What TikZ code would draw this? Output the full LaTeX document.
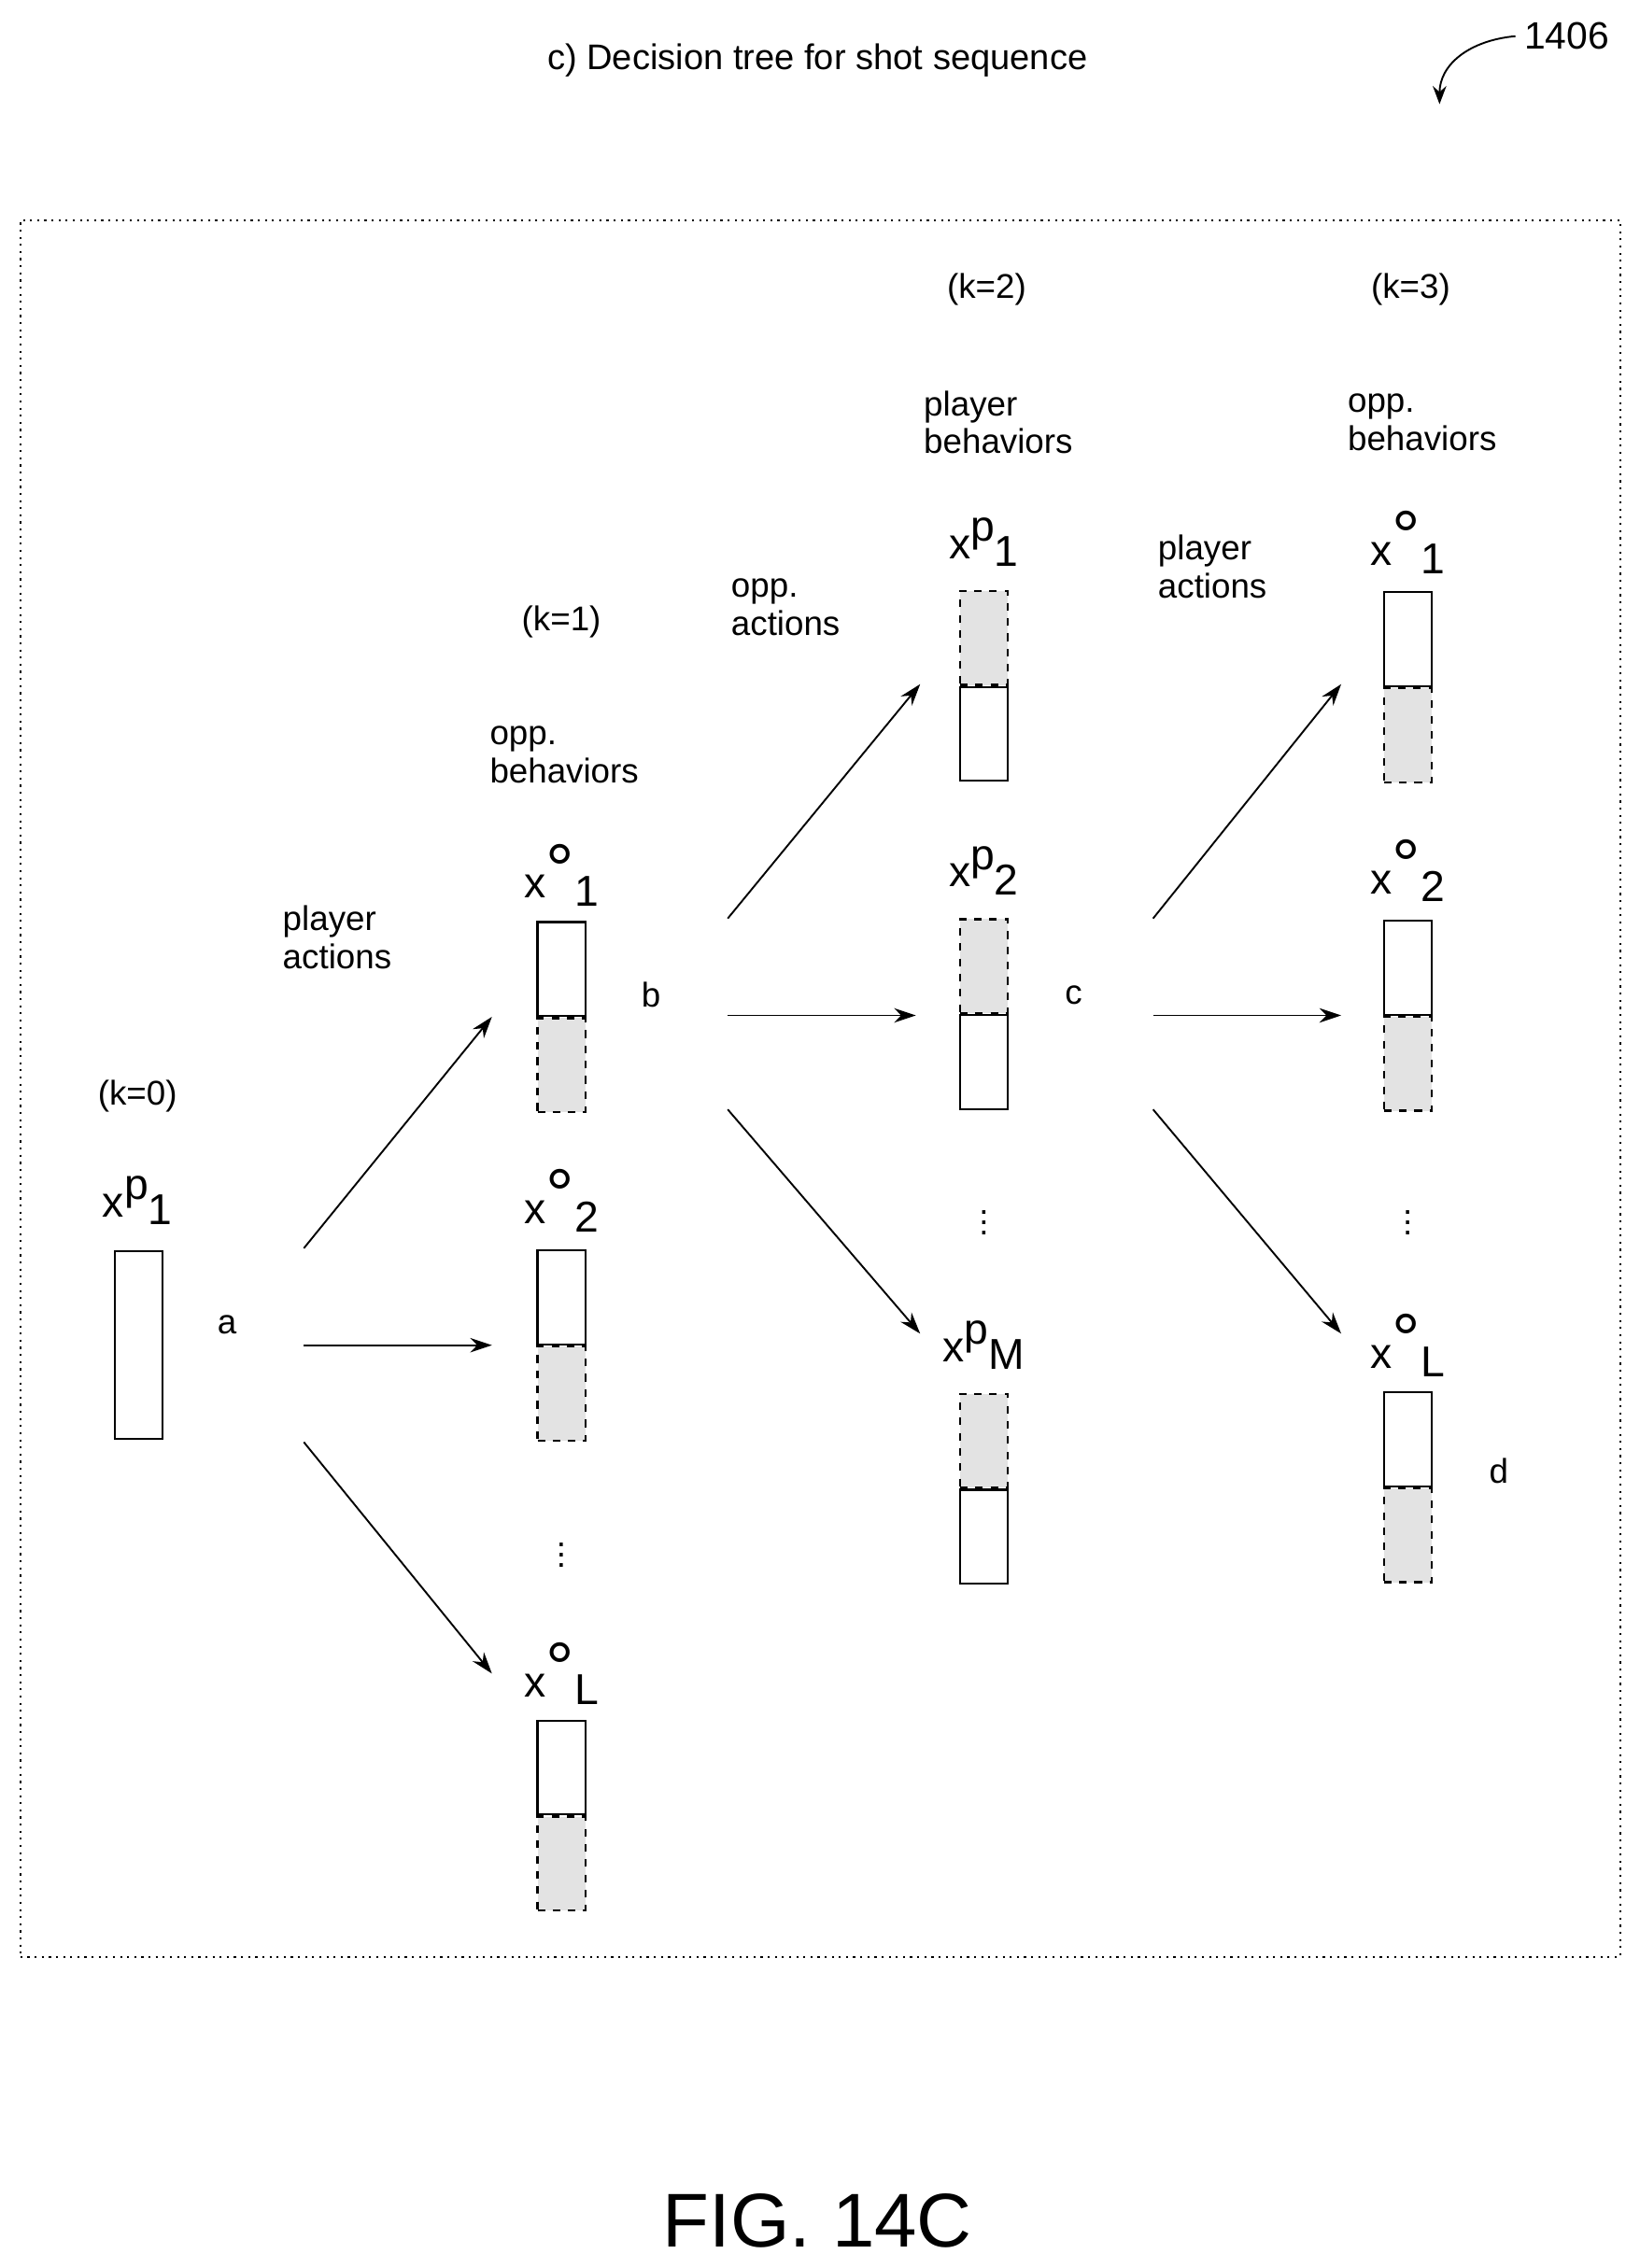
\documentclass[tikz,border=0pt]{standalone}
\usepackage{fontspec}
\setmainfont{Liberation Sans}
\usetikzlibrary{arrows.meta,positioning}
\newcommand{\xlbl}[2]{x\raisebox{0.75ex}{#1}\raisebox{-0.35ex}{#2}}
\newcommand{\odeg}{\raisebox{-0.55ex}{\fontsize{28}{28}\selectfont\textdegree}}
\begin{document}
\begin{tikzpicture}[
    x=0.02cm, y=-0.02cm,
    half/.style={rectangle, draw, line width=0.8pt, minimum width=0.66cm, minimum height=1.3cm, inner sep=0pt},
    shd/.style={half, dashed, fill=gray!22},
    lbl/.style={font=\fontsize{17}{19}\selectfont},
    txt/.style={font=\fontsize{13.5}{15}\selectfont, align=left},
    dots/.style={font=\fontsize{13.5}{15}\selectfont, inner sep=0pt},
    arrow/.style={-{Stealth[length=3mm,width=2mm]}, line width=0.7pt}
]
    \useasboundingbox (0,0) rectangle (1133,1568);
    \node[font=\fontsize{14}{16}\selectfont] (title) at (565,42) {c) Decision tree for shot sequence};
    \node[font=\fontsize{15}{17}\selectfont] (ref) at (1083,25) {1406};
    \draw[-{Stealth[length=2.5mm]}, line width=0.7pt] (ref.west) .. controls (1015,28) and (995,45) .. (995,72);
    \node[draw, dotted, line width=0.8pt, minimum width=22.12cm, minimum height=24.02cm, inner sep=0] (frame) at (567,752.5) {};

    % k=0
    \node[txt] (k0) at (95,758) {(k=0)};
    \node[lbl] (l0) at (95,830) {\xlbl{p}{1}};
    \node[half, minimum height=2.6cm] (p0) at (96,930) {};

    % k=1
    \node[txt] (k1) at (388,430) {(k=1)};
    \node[txt] (ob1) at (390,522) {opp.\\behaviors};
    \node[lbl] (o1l) at (388,605) {\xlbl{\odeg}{1}};
    \node[half] (o1t) at (388,670) {};
    \node[shd, below=0pt of o1t] (o1b) {};
    \node[lbl] (o2l) at (388,830) {\xlbl{\odeg}{2}};
    \node[half] (o2t) at (388,897) {};
    \node[shd, below=0pt of o2t] (o2b) {};
    \node[dots] (d1) at (388,1070) {\vdots};
    \node[lbl] (oLl) at (388,1157) {\xlbl{\odeg}{L}};
    \node[half] (oLt) at (388,1222) {};
    \node[shd, below=0pt of oLt] (oLb) {};

    % k=2
    \node[txt] (k2) at (682,200) {(k=2)};
    \node[txt] (pb2) at (690,292) {player\\behaviors};
    \node[lbl] (q1l) at (680,375) {\xlbl{p}{1}};
    \node[shd] (q1t) at (680,441) {};
    \node[half, below=0pt of q1t] (q1b) {};
    \node[lbl] (q2l) at (680,602) {\xlbl{p}{2}};
    \node[shd] (q2t) at (680,668) {};
    \node[half, below=0pt of q2t] (q2b) {};
    \node[dots] (d2) at (680,840) {\vdots};
    \node[lbl] (qMl) at (680,930) {\xlbl{p}{M}};
    \node[shd] (qMt) at (680,996) {};
    \node[half, below=0pt of qMt] (qMb) {};

    % k=3
    \node[txt] (k3) at (975,200) {(k=3)};
    \node[txt] (ob3) at (983,292) {opp.\\behaviors};
    \node[lbl] (r1l) at (973,375) {\xlbl{\odeg}{1}};
    \node[half] (r1t) at (973,442) {};
    \node[shd, below=0pt of r1t] (r1b) {};
    \node[lbl] (r2l) at (973,602) {\xlbl{\odeg}{2}};
    \node[half] (r2t) at (973,669) {};
    \node[shd, below=0pt of r2t] (r2b) {};
    \node[dots] (d3) at (973,840) {\vdots};
    \node[lbl] (rLl) at (973,930) {\xlbl{\odeg}{L}};
    \node[half] (rLt) at (973,995) {};
    \node[shd, below=0pt of rLt] (rLb) {};

    % edge labels
    \node[txt] (pa1) at (233,648) {player\\actions};
    \node[txt] (oa2) at (543,420) {opp.\\actions};
    \node[txt] (pa3) at (838,392) {player\\actions};
    \node[txt] (a) at (157,916) {a};
    \node[txt] (b) at (450,688) {b};
    \node[txt] (c) at (742,688) {c};
    \node[txt] (d) at (1036,1017) {d};

    % arrow ends
    \coordinate (a1) at (210,863); \coordinate (a2) at (210,930); \coordinate (a3) at (210,997);
    \coordinate (b1) at (503,635); \coordinate (b2) at (503,702); \coordinate (b3) at (503,767);
    \coordinate (c1) at (797,635); \coordinate (c2) at (797,702); \coordinate (c3) at (797,767);
    \coordinate (a1e) at (340,703); \coordinate (a2e) at (340,930); \coordinate (a3e) at (340,1157);
    \coordinate (b1e) at (636,473); \coordinate (b2e) at (633,702); \coordinate (b3e) at (636,922);
    \coordinate (c1e) at (927,473); \coordinate (c2e) at (927,702); \coordinate (c3e) at (927,922);
    \draw[arrow] (a1) -- (a1e);
    \draw[arrow] (a2) -- (a2e);
    \draw[arrow] (a3) -- (a3e);
    \draw[arrow] (b1) -- (b1e);
    \draw[arrow] (b2) -- (b2e);
    \draw[arrow] (b3) -- (b3e);
    \draw[arrow] (c1) -- (c1e);
    \draw[arrow] (c2) -- (c2e);
    \draw[arrow] (c3) -- (c3e);

    \node[font=\fontsize{30}{32}\selectfont] (fig) at (565,1535) {FIG. 14C};
\end{tikzpicture}
\end{document}
